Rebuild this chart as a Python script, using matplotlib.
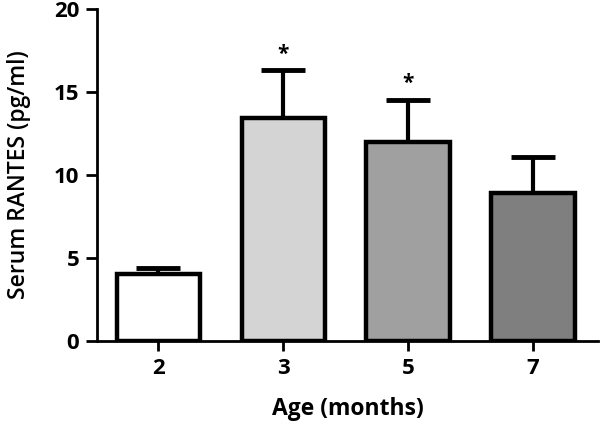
import matplotlib.pyplot as plt
import numpy as np

plt.rcParams['font.family'] = ['Open Sans', 'DejaVu Sans']

ages = ['2', '3', '5', '7']
rantes = [4.0, 13.45, 12.0, 8.9]
sem = [0.4, 2.85, 2.5, 2.2]
colors = ['#ffffff', '#d4d4d4', '#a0a0a0', '#7f7f7f']
signif = ['', '*', '*', '']

x = np.arange(len(ages))

fig = plt.figure(figsize=(6, 4.24), dpi=100)
ax = fig.add_axes([0.162, 0.196, 0.835, 0.783])

ax.errorbar(x, rantes, yerr=[[0] * len(sem), sem], fmt='none', ecolor='black',
            elinewidth=3, capsize=16, capthick=3.5, zorder=1)
ax.bar(x, rantes, width=0.67, color=colors, edgecolor='black', linewidth=3.2, zorder=2)

for xi, v, e, s in zip(x, rantes, sem, signif):
    if s:
        ax.text(xi, v + e + 0.35, s, ha='center', va='bottom', fontsize=15, fontweight='bold')

ax.set_xlim(-0.49, 3.52)
ax.set_ylim(0, 20)
ax.set_yticks([0, 5, 10, 15, 20])
ax.set_xticks(x)
ax.set_xticklabels(ages)

for side in ['top', 'right']:
    ax.spines[side].set_visible(False)
for side in ['left', 'bottom']:
    ax.spines[side].set_linewidth(2)

ax.tick_params(axis='y', length=8, width=2, labelsize=16, pad=5)
ax.tick_params(axis='x', length=7, width=2, labelsize=16, pad=5)
for lab in ax.get_xticklabels() + ax.get_yticklabels():
    lab.set_fontweight('bold')

ax.set_xlabel('Age (months)', fontsize=16.5, fontweight='bold', labelpad=13)
ax.set_ylabel('Serum RANTES (pg/ml)', fontsize=16.5, fontweight='semibold', labelpad=16)

fig.savefig('out.png', dpi=100)
